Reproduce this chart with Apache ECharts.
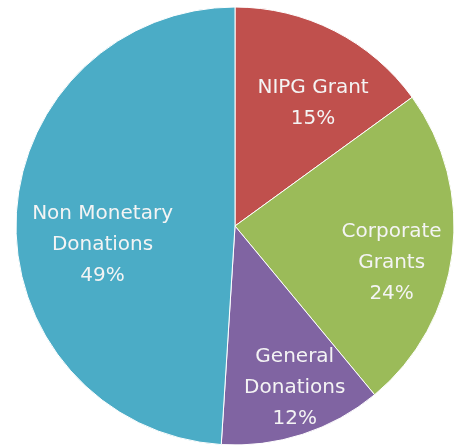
<!DOCTYPE html>
<html>
<head>
<meta charset="utf-8">
<style>
  html, body { margin: 0; padding: 0; background: #ffffff; }
  #chart { width: 454px; height: 448px; }
</style>
<script src="https://cdn.jsdelivr.net/npm/echarts@6/dist/echarts.min.js"></script>
</head>
<body>
<div id="chart"></div>
<script>
// Data
var categories = ['NIPG Grant', 'Corporate Grants', 'General Donations', 'Non Monetary Donations'];
var labelNames = ['NIPG Grant', 'Corporate\nGrants', 'General\nDonations', 'Non Monetary\nDonations'];
var values = [15, 24, 12, 49];

// Styles (kept apart from data)
var colors = ['#C0504D', '#9BBB59', '#8064A2', '#4BACC6'];
var labelShiftX = [27, 45, 25, -20];
var labelShiftY = [-22, 23, 55, 22];

var chart = echarts.init(document.getElementById('chart'), null, { renderer: 'canvas' });

var seriesData = categories.map(function (c, i) {
  return { name: c, value: values[i], itemStyle: { color: colors[i] } };
});

chart.setOption({
  animation: false,
  backgroundColor: '#ffffff',
  series: [{
    type: 'pie',
    center: [235, 226],
    radius: [0, 219],
    startAngle: 90,
    clockwise: true,
    avoidLabelOverlap: false,
    itemStyle: { borderColor: '#ffffff', borderWidth: 1 },
    label: {
      show: true,
      position: 'inside',
      color: '#f4f4f4',
      fontFamily: 'DejaVu Sans',
      fontSize: 20,
      lineHeight: 31,
      align: 'center',
      formatter: function (p) {
        return labelNames[p.dataIndex] + '\n' + values[p.dataIndex] + '%';
      }
    },
    labelLine: { show: false },
    labelLayout: function (params) {
      return { dx: labelShiftX[params.dataIndex], dy: labelShiftY[params.dataIndex] };
    },
    emphasis: { disabled: true },
    data: seriesData
  }]
});
</script>
</body>
</html>
